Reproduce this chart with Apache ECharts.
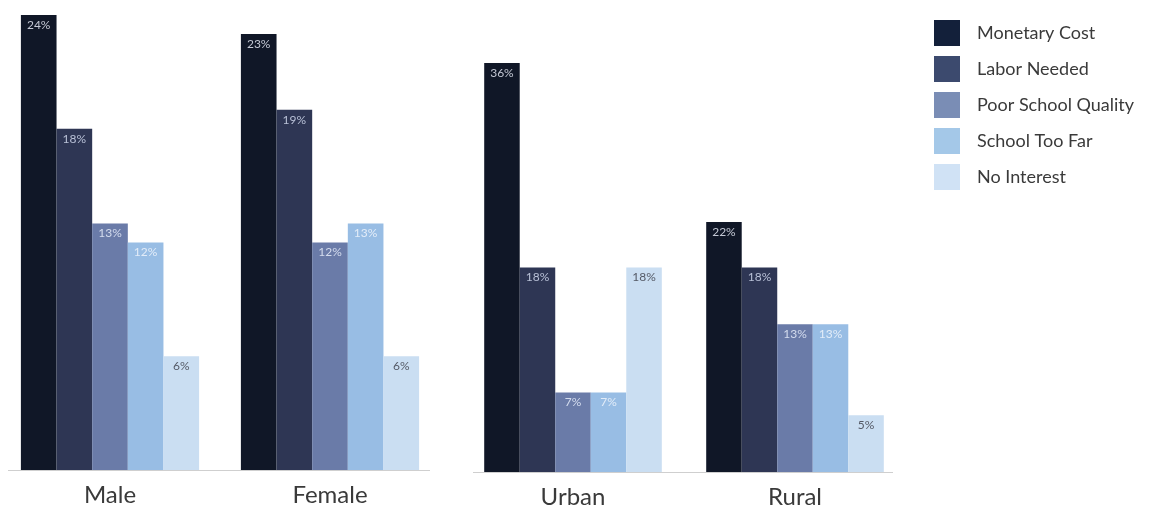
<!DOCTYPE html>
<html><head><meta charset="utf-8">
<script src="https://cdn.jsdelivr.net/npm/echarts@6/dist/echarts.min.js"></script>
<style>html,body{margin:0;padding:0;background:#fff}#c{width:1165px;height:512px}</style>
</head><body><div id="c"></div>
<script>
const seriesNames = ['Monetary Cost','Labor Needed','Poor School Quality','School Too Far','No Interest'];
const genderCats = ['Male','Female'];
const areaCats = ['Urban','Rural'];
// values per series: [first category, second category]
const monetaryGender = [24, 23];
const laborGender = [18, 19];
const qualityGender = [13, 12];
const farGender = [12, 13];
const interestGender = [6, 6];
const monetaryArea = [36, 22];
const laborArea = [18, 18];
const qualityArea = [7, 13];
const farArea = [7, 13];
const interestArea = [18, 5];

const barColors = ['#101727','#2e3654','#6a7ba8','#98bde4','#cadef2'];
const legendColors = ['#13203a','#3c4a6e','#7a8db5','#a4c8e8','#d0e2f5'];
const labelColors = ['#c4c8d4','#b8c0d6','#d4dcee','#e2ecf8','#555a66'];

const genderData = [monetaryGender, laborGender, qualityGender, farGender, interestGender];
const areaData = [monetaryArea, laborArea, qualityArea, farArea, interestArea];

const font = 'Lato';
function mk(idx, data, gi){
  return {
    name: seriesNames[idx], type: 'bar', xAxisIndex: gi, yAxisIndex: gi,
    data: data, barGap: '0%', barCategoryGap: gi===0 ? '19%' : '20%',
    itemStyle: {color: barColors[idx]},
    label: {show: true, position: 'insideTop', distance: 4, formatter: '{c}%',
      color: labelColors[idx], fontSize: 12, fontFamily: font, letterSpacing: -0.5},
    silent: true, animation: false
  };
}
const series = [];
genderData.forEach((d,i)=>series.push(mk(i,d,0)));
areaData.forEach((d,i)=>series.push(mk(i,d,1)));

const xCommon = {
  type: 'category',
  axisLine: {show: false},
  axisTick: {show: false},
  axisLabel: {fontSize: 24, color: '#3a3a3a', fontFamily: font, margin: 13}
};
const yCommon = {type: 'value', min: 0, show: false, splitLine: {show: false}};

const chart = echarts.init(document.getElementById('c'));
chart.setOption({
  backgroundColor: '#fff',
  animation: false,
  legend: {
    orient: 'vertical', left: 934, top: 20, padding: 0,
    itemWidth: 26, itemHeight: 26, itemGap: 10,
    icon: 'rect',
    textStyle: {fontSize: 18, color: '#3a3a3a', fontFamily: font, padding: [0,0,0,12]},
    data: seriesNames.map((n,i)=>({name: n, itemStyle: {color: legendColors[i]}}))
  },
  graphic: [
    {type: 'line', shape: {x1: 8, y1: 470.5, x2: 430, y2: 470.5}, style: {stroke: '#cfcfcf', lineWidth: 1}, z: 0},
    {type: 'line', shape: {x1: 473, y1: 472.5, x2: 893, y2: 472.5}, style: {stroke: '#cfcfcf', lineWidth: 1}, z: 0}
  ],
  grid: [
    {left: -4, top: 15, width: 444, height: 455},
    {left: 462, top: 63, width: 444, height: 409}
  ],
  xAxis: [
    Object.assign({}, xCommon, {gridIndex: 0, data: genderCats}),
    Object.assign({}, xCommon, {gridIndex: 1, data: areaCats})
  ],
  yAxis: [
    Object.assign({}, yCommon, {gridIndex: 0, max: 24}),
    Object.assign({}, yCommon, {gridIndex: 1, max: 36})
  ],
  series: series
});
</script></body></html>
